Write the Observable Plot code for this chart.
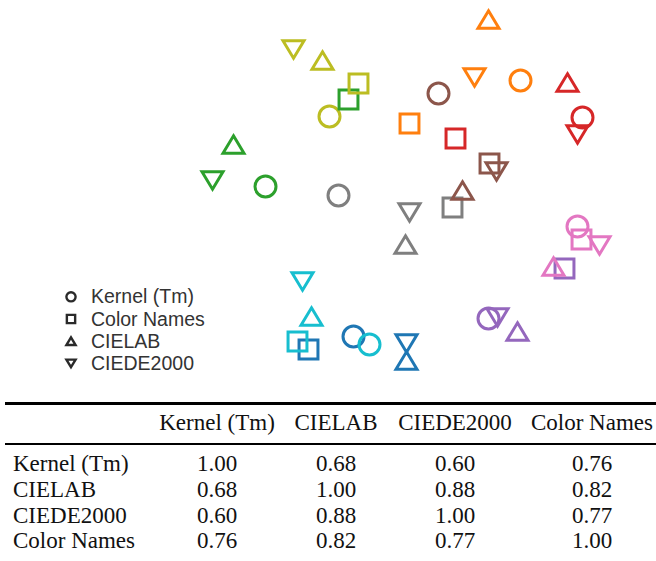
<!DOCTYPE html>
<html>
<head>
<meta charset="utf-8">
<script src="https://cdn.jsdelivr.net/npm/d3@7"></script>
<script src="https://cdn.jsdelivr.net/npm/@observablehq/plot@0.6"></script>
<style>
  html, body { margin: 0; padding: 0; background: #fff; overflow: hidden; }
  #wrap { position: relative; width: 656px; height: 561px; overflow: hidden; }
  #legend { position: absolute; left: 60px; top: 285px; }
  #tbl { position: absolute; left: 5px; top: 402px; width: 700px; font-family: "Liberation Serif", "Times New Roman", serif; font-size: 23px; color: #111; }
  #tbl table { border-collapse: separate; border-spacing: 0; }
  #tbl td, #tbl th { padding: 0; font-weight: normal; white-space: nowrap; }
  #tbl thead th { border-top: 3px solid #000; border-bottom: 2px solid #000; line-height: 25.5px; padding-top: 5.2px; padding-bottom: 7.8px; }
  #tbl tbody td { line-height: 25.8px; }
  #tbl tbody tr:first-child td { padding-top: 5.5px; }
</style>
</head>
<body>
<div id="wrap"><div id="chart"></div><div id="legend"></div><div id="tbl"></div></div>
<script>
// ---- data ----
const hues = ["blue", "orange", "green", "red", "purple", "brown", "pink", "gray", "olive", "cyan"];
const methods = ["Kernel (Tm)", "Color Names", "CIELAB", "CIEDE2000"];

// 2-D embedding coordinates per method, one entry per hue
const kernelX = [-0.47, 1.20, -1.35, 1.82, 0.88, 0.38, 1.77, -0.62, -0.71, -0.31];
const kernelY = [-1.36, 1.20, 0.14, 0.83, -1.18, 1.07, -0.26, 0.05, 0.84, -1.44];
const namesX  = [-0.92, 0.09, -0.52, 0.55, 1.64, 0.89, 1.81, 0.52, -0.42, -1.03];
const namesY  = [-1.49, 0.77, 1.01, 0.62, -0.68, 0.37, -0.39, -0.07, 1.17, -1.41];
const labX    = [0.06, 0.88, -1.67, 1.67, 1.17, 0.62, 1.53, 0.05, -0.78, -0.89];
const labY    = [-1.60, 1.81, 0.56, 1.18, -1.31, 0.10, -0.66, -0.44, 1.40, -1.16];
const de2000X = [0.06, 0.74, -1.88, 1.77, 0.97, 0.96, 1.99, 0.09, -1.07, -0.98];
const de2000Y = [-1.43, 1.23, 0.20, 0.66, -1.17, 0.29, -0.45, -0.12, 1.51, -0.81];

// correlation table
const tableCols = ["Kernel (Tm)", "CIELAB", "CIEDE2000", "Color Names"];
const tableRows = ["Kernel (Tm)", "CIELAB", "CIEDE2000", "Color Names"];
const corr = [
  [1.00, 0.68, 0.60, 0.76],
  [0.68, 1.00, 0.88, 0.82],
  [0.60, 0.88, 1.00, 0.77],
  [0.76, 0.82, 0.77, 1.00]
];

// ---- symbols ----
const symCircle = { draw(ctx, size) { const r = Math.sqrt(size / Math.PI); ctx.moveTo(r, 0); ctx.arc(0, 0, r, 0, 2 * Math.PI); } };
const symSquare = { draw(ctx, size) { const h = Math.sqrt(size / Math.PI) * 0.9; ctx.moveTo(-h, -h); ctx.lineTo(h, -h); ctx.lineTo(h, h); ctx.lineTo(-h, h); ctx.closePath(); } };
const symUp = { draw(ctx, size) { const r = Math.sqrt(size / Math.PI); const w = r, hh = r * 0.83; ctx.moveTo(0, -hh); ctx.lineTo(w, hh); ctx.lineTo(-w, hh); ctx.closePath(); } };
const symDown = { draw(ctx, size) { const r = Math.sqrt(size / Math.PI); const w = r, hh = r * 0.83; ctx.moveTo(0, hh); ctx.lineTo(w, -hh); ctx.lineTo(-w, -hh); ctx.closePath(); } };
const symbolsByMethod = [symCircle, symSquare, symUp, symDown];

const series = [[kernelX, kernelY], [namesX, namesY], [labX, labY], [de2000X, de2000Y]];
const points = [];
methods.forEach((m, i) => {
  hues.forEach((h, j) => points.push({ method: m, hue: h, x: series[i][0][j], y: series[i][1][j] }));
});

const chart = Plot.plot({
  width: 656,
  height: 402,
  margin: 0,
  x: { domain: [-4, 2.56], axis: null },
  y: { domain: [-2.02, 2], axis: null },
  color: { type: "ordinal", domain: hues, range: d3.schemeCategory10 },
  symbol: { domain: methods, range: symbolsByMethod },
  marks: [
    Plot.dot(points, { x: "x", y: "y", symbol: "method", stroke: { value: "hue", scale: "color" }, fill: "none", r: 10.5, strokeWidth: 3 })
  ]
});
document.getElementById("chart").appendChild(chart);

// ---- legend (built from the symbol scale) ----
const symScale = chart.scale("symbol");
const leg = d3.select("#legend").append("svg").attr("width", 180).attr("height", 95)
  .style("font-family", "'Liberation Sans', Arial, sans-serif").style("font-size", "19.5px");
const legOrder = ["Kernel (Tm)", "Color Names", "CIELAB", "CIEDE2000"];
legOrder.forEach((m, i) => {
  const g = leg.append("g").attr("transform", `translate(0,${18.3 + i * 22.2})`);
  const sym = symScale.range[symScale.domain.indexOf(m)];
  g.append("path").attr("transform", "translate(11,-6.5)")
    .attr("d", d3.symbol(sym, Math.PI * 4.6 * 4.6)())
    .attr("fill", "none").attr("stroke", "#2a2a2a").attr("stroke-width", 2.4);
  g.append("text").attr("x", 31).attr("y", 0).attr("fill", "#333").text(m);
});

// ---- table ----
const colW = [153, 118, 120, 118, 156];
const table = d3.select("#tbl").append("table");
const thr = table.append("thead").append("tr");
thr.append("th").style("width", colW[0] + "px");
tableCols.forEach((c, i) => thr.append("th").style("width", colW[i + 1] + "px").style("text-align", "center").text(c));
const tb = table.append("tbody");
tableRows.forEach((r, i) => {
  const tr = tb.append("tr");
  tr.append("td").style("padding-left", "8px").style("text-align", "left").text(r);
  corr[i].forEach(v => tr.append("td").style("text-align", "center").text(v.toFixed(2)));
});
</script>
</body>
</html>
